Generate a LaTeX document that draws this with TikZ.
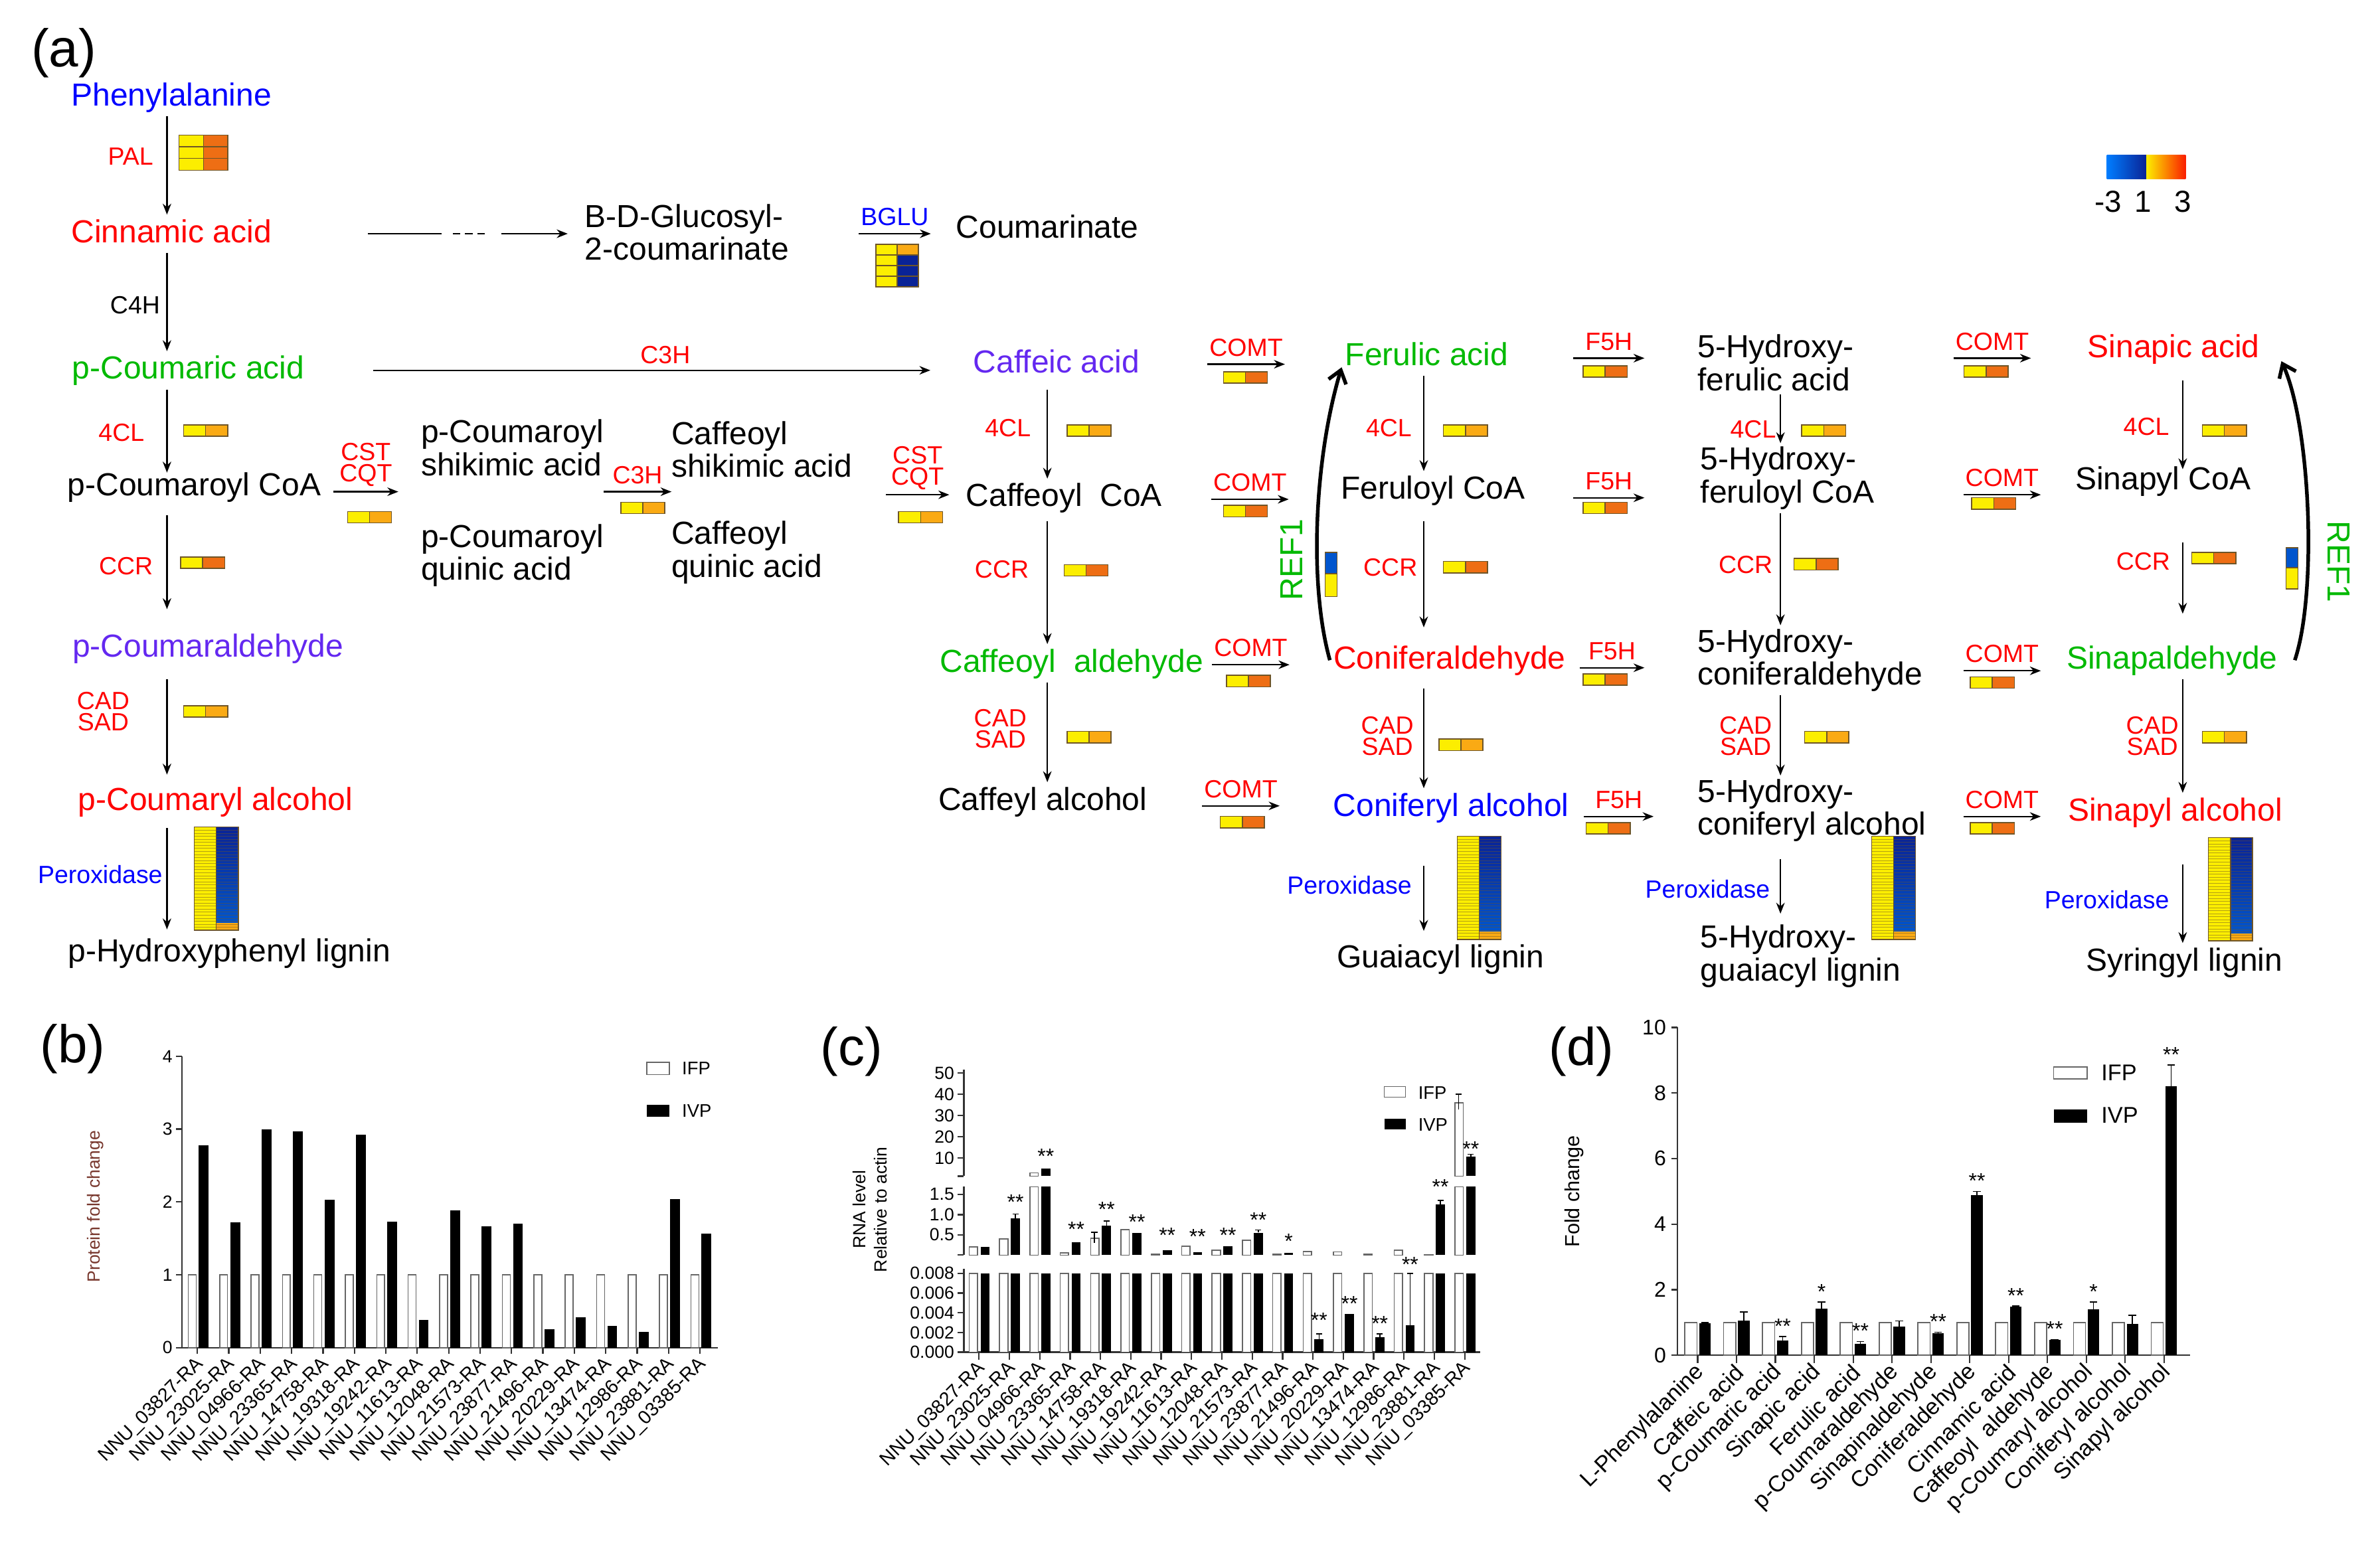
\documentclass[tikz,border=0pt]{standalone}
\usepackage{fontspec}
\setmainfont{Liberation Sans}
\usetikzlibrary{arrows.meta,calc}

\definecolor{cpdblue}{RGB}{0,0,255}
\definecolor{cpdred}{RGB}{255,0,0}
\definecolor{cpdgreen}{RGB}{0,185,0}
\definecolor{cpdviolet}{RGB}{100,40,240}
\definecolor{hmyel}{RGB}{252,238,0}
\definecolor{hmorg}{RGB}{238,110,20}
\definecolor{hmamb}{RGB}{250,170,20}
\definecolor{hmnavy}{RGB}{10,35,150}
\definecolor{hmblue}{RGB}{0,85,205}
\definecolor{hmedge}{RGB}{110,85,40}
\definecolor{cbblue}{RGB}{0,125,255}
\definecolor{cbred}{RGB}{250,30,0}
\definecolor{ylbrown}{RGB}{120,55,45}

\newcommand{\cpdsize}{\fontsize{10.5}{9.5}\selectfont}
\newcommand{\hydsize}{\fontsize{10.5}{10.8}\selectfont}
\newcommand{\enzsize}{\fontsize{8.2}{7}\selectfont}

% two-cell heat strip: x, y of the NW corner, colour of the right cell
\newcommand{\hmpair}[3]{%
  \filldraw[hmcell, fill=hmyel] (#1,#2) rectangle ++(14.5,7.5);
  \filldraw[hmcell, fill=#3] (#1+14.5,#2) rectangle ++(14.5,7.5);}
% tall peroxidase block: x, y of the NW corner
\newcommand{\hmtall}[2]{%
  \fill[hmyel] (#1,#2) rectangle ++(14.5,68);
  \shade[top color=hmnavy, bottom color=hmblue] (#1+14.5,#2) rectangle ++(14.5,63);
  \fill[hmamb] (#1+14.5,#2+63) rectangle ++(14.5,5);
  \foreach \k in {1,...,33} \draw[hmstripe] (#1,#2+2*\k) -- ++(29,0);
  \draw[hmcell] (#1,#2) rectangle ++(29,68) (#1+14.5,#2) -- ++(0,68);}
% error whisker: x, low y, high y
\newcommand{\errbar}[3]{\draw[errline] (#1,#2) -- (#1,#3) (#1-2,#3) -- (#1+2,#3);}

\tikzset{
  cpd/.style={font=\cpdsize, inner sep=1pt, text height=8pt, text depth=2.2pt},
  cpdtwo/.style={font=\cpdsize, inner sep=1pt, align=left, anchor=west},
  enz/.style={font=\enzsize, text=cpdred, inner sep=0.5pt},
  enztwo/.style={enz, align=center},
  rxnlab/.style={enz, anchor=south, text height=6pt, text depth=2pt},
  rxnlabtwo/.style={enz, anchor=south, align=center, inner ysep=1.5pt},
  rxn/.style={->, line width=0.5pt},
  refarc/.style={line width=1.2pt, -{Straight Barb[length=4pt, width=6pt]}},
  reflab/.style={font=\fontsize{10.5}{10.5}\selectfont, text=cpdgreen, inner sep=0pt},
  hmcell/.style={draw=hmedge, line width=0.3pt},
  hmstripe/.style={draw=hmedge, line width=0.12pt, opacity=0.5},
  panel/.style={font=\fontsize{17.5}{17.5}\selectfont, inner sep=0pt},
  axline/.style={line width=0.5pt, draw=black!80},
  ifpbar/.style={fill=white, draw=black!60, line width=0.35pt},
  ivpbar/.style={fill=black},
  errline/.style={line width=0.35pt},
  ticklab/.style={font=\fontsize{5.8}{6}\selectfont, inner sep=1pt, anchor=east},
  dticklab/.style={font=\fontsize{7}{7}\selectfont, inner sep=1pt, anchor=east},
  xlab/.style={font=\fontsize{6.3}{6.3}\selectfont, inner sep=0.5pt, rotate=45, anchor=east},
  dxlab/.style={font=\fontsize{7.5}{7.5}\selectfont, inner sep=0.5pt, rotate=45, anchor=east},
  leglab/.style={font=\fontsize{6}{6}\selectfont, inner sep=0.5pt, anchor=west},
  dleglab/.style={font=\fontsize{7.5}{7.5}\selectfont, inner sep=0.5pt, anchor=west},
  ylab/.style={font=\fontsize{5.8}{6}\selectfont, inner sep=0pt, rotate=90},
  sig/.style={font=\fontsize{7}{7}\selectfont, inner sep=0pt},
}

\begin{document}
\begin{tikzpicture}[x=0.5pt, y=-0.5pt, >={Stealth[length=3.6pt, width=2.8pt]}]
\useasboundingbox (0,0) rectangle (1568,1019);

%% (a) pathway
\node[panel] (pa) at (42,35) {(a)};

% compounds
\node[cpd, text=cpdblue] (phe) at (113,64) {Phenylalanine};
\node[cpd, text=cpdred] (cin) at (113,154) {Cinnamic acid};
\node[cpd, text=cpdgreen] (pca) at (124,244) {p-Coumaric acid};
\node[cpd] (pcoa) at (128,321) {p-Coumaroyl CoA};
\node[cpd, text=cpdviolet] (pcald) at (137,427) {p-Coumaraldehyde};
\node[cpd, text=cpdred] (pcalc) at (142,528) {p-Coumaryl alcohol};
\node[cpd] (hlig) at (151,628) {p-Hydroxyphenyl lignin};

\node[cpdtwo] (glc) at (383,153) {B-D-Glucosyl-\\2-coumarinate};
\node[cpd] (coum) at (690,151) {Coumarinate};
\node[cpdtwo] (pcs) at (275,295) {p-Coumaroyl\\shikimic acid};
\node[cpdtwo] (pcq) at (275,366) {p-Coumaroyl\\quinic acid};
\node[cpdtwo] (cfs) at (440,296) {Caffeoyl\\shikimic acid};
\node[cpdtwo] (cfq) at (440,364) {Caffeoyl\\quinic acid};

\node[cpd, text=cpdviolet] (caf) at (696,240) {Caffeic acid};
\node[cpd] (cfcoa) at (701,328) {Caffeoyl\ \ CoA};
\node[cpd, text=cpdgreen] (cfald) at (706,437) {Caffeoyl\ \ aldehyde};
\node[cpd] (cfalc) at (687,528) {Caffeyl alcohol};

\node[cpd, text=cpdgreen] (fer) at (940,235) {Ferulic acid};
\node[cpd] (fcoa) at (944,323) {Feruloyl CoA};
\node[cpd, text=cpdred] (conald) at (955,435) {Coniferaldehyde};
\node[cpd, text=cpdblue] (conalc) at (956,532) {Coniferyl alcohol};
\node[cpd] (glig) at (949,632) {Guaiacyl lignin};

\node[cpdtwo, font=\hydsize] (hfa) at (1116,239) {5-Hydroxy-\\ferulic acid};
\node[cpdtwo, font=\hydsize] (hfcoa) at (1118,315) {5-Hydroxy-\\feruloyl CoA};
\node[cpdtwo, font=\hydsize] (hcald) at (1116,435) {5-Hydroxy-\\coniferaldehyde};
\node[cpdtwo, font=\hydsize] (hcalc) at (1116,534) {5-Hydroxy-\\coniferyl alcohol};
\node[cpdtwo] (hglig) at (1118,630) {5-Hydroxy-\\guaiacyl lignin};

\node[cpd, text=cpdred] (sina) at (1432,230) {Sinapic acid};
\node[cpd] (scoa) at (1425,317) {Sinapyl CoA};
\node[cpd, text=cpdgreen] (sald) at (1431,435) {Sinapaldehyde};
\node[cpd, text=cpdred] (salc) at (1433,535) {Sinapyl alcohol};
\node[cpd] (slig) at (1439,634) {Syringyl lignin};

% vertical steps
\coordinate (colA) at (110,0);
\coordinate (colB) at (690,0);
\coordinate (colC) at (938,0);
\coordinate (colD) at (1173,0);
\coordinate (colE) at (1438,0);

\draw[rxn] (phe.south -| colA) -- (cin.north -| colA);
\draw[rxn] (cin.south -| colA) -- (pca.north -| colA);
\draw[rxn, shorten >=-1.5pt] (pca.south -| colA) -- (pcoa.north -| colA);
\draw[rxn, shorten <=3pt, shorten >=6.5pt] (pcoa.south -| colA) -- (pcald.north -| colA);
\draw[rxn, shorten <=4pt, shorten >=2.5pt] (pcald.south -| colA) -- (pcalc.north -| colA);
\draw[rxn, shorten <=2.5pt, shorten >=1.5pt] (pcalc.south -| colA) -- (hlig.north -| colA);

\draw[rxn, shorten <=2pt] (caf.south -| colB) -- (cfcoa.north -| colB);
\draw[rxn, shorten <=1.5pt] (cfcoa.south -| colB) -- (cfald.north -| colB);
\draw[rxn] (cfald.south -| colB) -- (cfalc.north -| colB);

\draw[rxn] (fer.south -| colC) -- (fcoa.north -| colC);
\draw[rxn, shorten <=4pt, shorten >=4.5pt] (fcoa.south -| colC) -- (conald.north -| colC);
\draw[rxn, shorten <=3pt] (conald.south -| colC) -- (conalc.north -| colC);
\draw[rxn, shorten <=13pt, shorten >=3pt] (conalc.south -| colC) -- (glig.north -| colC);

\draw[rxn] (hfa.south -| colD) -- (hfcoa.north -| colD);
\draw[rxn] (hfcoa.south -| colD) -- (hcald.north -| colD);
\draw[rxn] (hcald.south -| colD) -- (hcalc.north -| colD);
\draw[rxn, shorten <=4.5pt, shorten >=2.5pt] (hcalc.south -| colD) -- (hglig.north -| colD);

\draw[rxn, shorten <=4pt, shorten >=-2.4pt] (sina.south -| colE) -- (scoa.north -| colE);
\draw[rxn, shorten <=14pt, shorten >=9pt] (scoa.south -| colE) -- (sald.north -| colE);
\draw[rxn] (sald.south -| colE) -- (salc.north -| colE);
\draw[rxn, shorten <=11pt] (salc.south -| colE) -- (slig.north -| colE);

% enzymes on the vertical steps
\node[enz] (palA) at (86,103) {PAL};
\node[enz, text=black] (c4h) at (89,201) {C4H};
\node[enz] (clA) at (80,285) {4CL};
\node[enz] (ccrA) at (83,373) {CCR};
\node[enztwo] (cadA) at (68,469) {CAD\\SAD};
\node[enz, text=cpdblue] (poxA) at (66,576) {Peroxidase};
\node[enz] (clB) at (664,282) {4CL};
\node[enz] (ccrB) at (660,375) {CCR};
\node[enztwo] (cadB) at (659,480) {CAD\\SAD};
\node[enz] (clC) at (915,282) {4CL};
\node[enz] (ccrC) at (916,374) {CCR};
\node[enztwo] (cadC) at (914,485) {CAD\\SAD};
\node[enz, text=cpdblue] (poxC) at (889,583) {Peroxidase};
\node[enz] (clD) at (1155,283) {4CL};
\node[enz] (ccrD) at (1150,372) {CCR};
\node[enztwo] (cadD) at (1150,485) {CAD\\SAD};
\node[enz, text=cpdblue] (poxD) at (1125,586) {Peroxidase};
\node[enz] (clE) at (1414,281) {4CL};
\node[enz] (ccrE) at (1412,370) {CCR};
\node[enztwo] (cadE) at (1418,485) {CAD\\SAD};
\node[enz, text=cpdblue] (poxE) at (1388,593) {Peroxidase};

% cinnamic acid branch and the long C3H step
\draw[shorten <=30.5pt, shorten >=46pt] (cin.east) -- (glc.west |- cin.east);
\draw[dash pattern=on 2.5pt off 1.5pt, shorten <=58.5pt, shorten >=31pt] (cin.east) -- (glc.west |- cin.east);
\draw[rxn, shorten <=74.5pt, shorten >=4.5pt] (cin.east) -- (glc.west |- cin.east);
\draw[rxn, shorten <=21.5pt, shorten >=13pt] (pca.east) -- (caf.west |- pca.east)
  node[enz, pos=0.54, above=1.5pt] (c3hl) {C3H};

% horizontal steps, arrow under each label
\node[rxnlab, text=cpdblue, minimum width=22.5pt] (bglu) at (589.5,154) {BGLU};
\node[rxnlabtwo, minimum width=21pt] (cst1) at (241,324) {CST\\CQT};
\node[rxnlab, minimum width=22pt] (c3hs) at (420,324) {C3H};
\node[rxnlabtwo, minimum width=20.5pt] (cst2) at (604.5,326) {CST\\CQT};
\node[rxnlab, minimum width=21pt] (comt1) at (821,240) {COMT};
\node[rxnlab, minimum width=21.5pt] (comt2) at (823.5,329) {COMT};
\node[rxnlab, minimum width=21pt] (comt3) at (824,438) {COMT};
\node[rxnlab, minimum width=20.5pt] (comt4) at (817.5,531) {COMT};
\node[rxnlab, minimum width=23pt] (f5h1) at (1060,236) {F5H};
\node[rxnlab, minimum width=23pt] (f5h2) at (1060,328) {F5H};
\node[rxnlab, minimum width=21pt] (f5h3) at (1062,440) {F5H};
\node[rxnlab, minimum width=22.5pt] (f5h4) at (1066.5,538) {F5H};
\node[rxnlab, minimum width=22.5pt] (comt5) at (1312.5,236) {COMT};
\node[rxnlab, minimum width=21pt] (comt6) at (1319,326) {COMT};
\node[rxnlab, minimum width=21pt] (comt7) at (1319,442) {COMT};
\node[rxnlab, minimum width=21pt] (comt8) at (1319,538) {COMT};
\foreach \e in {bglu,cst1,c3hs,cst2,comt1,comt2,comt3,comt4,f5h1,f5h2,f5h3,f5h4,comt5,comt6,comt7,comt8}
  \draw[rxn] (\e.south west) -- (\e.south east);

% REF1 arcs
\draw[refarc] (conald.west) .. controls +(-14,-50) and +(-18,60) .. ($(fer.west)+(0,7)$);
\node[reflab, rotate=90] (refl) at (851,369) {REF1};
\draw[refarc] ($(sald.east)+(9,0)$) .. controls +(15,-45) and +(19,42) .. ($(sina.east)+(12,8)$);
\node[reflab, rotate=-90] (refr) at (1541,370) {REF1};

% heat maps
\foreach \r in {0,1,2} {
  \filldraw[hmcell, fill=hmyel] (118,89+7.7*\r) rectangle ++(16,7.7);
  \filldraw[hmcell, fill=hmorg] (134,89+7.7*\r) rectangle ++(16,7.7);}
\foreach \r/\c in {0/hmamb,1/hmnavy,2/hmnavy,3/hmnavy} {
  \filldraw[hmcell, fill=hmyel] (577,161+7*\r) rectangle ++(14,7);
  \filldraw[hmcell, fill=\c] (591,161+7*\r) rectangle ++(14,7);}
\hmpair{121}{280}{hmamb}
\hmpair{119}{367}{hmorg}
\hmpair{121}{465}{hmamb}
\hmpair{229}{337}{hmamb}
\hmpair{409}{331}{hmamb}
\hmpair{592}{337}{hmamb}
\hmpair{703}{280}{hmamb}
\hmpair{701}{372}{hmorg}
\hmpair{703}{482}{hmamb}
\hmpair{806}{245}{hmorg}
\hmpair{806}{333}{hmorg}
\hmpair{808}{445}{hmorg}
\hmpair{804}{538}{hmorg}
\hmpair{951}{280}{hmamb}
\hmpair{951}{370}{hmorg}
\hmpair{948}{487}{hmamb}
\hmpair{1043}{241}{hmorg}
\hmpair{1043}{331}{hmorg}
\hmpair{1043}{444}{hmorg}
\hmpair{1045}{542}{hmorg}
\hmpair{1187}{280}{hmamb}
\hmpair{1182}{368}{hmorg}
\hmpair{1189}{482}{hmamb}
\hmpair{1294}{241}{hmorg}
\hmpair{1299}{328}{hmorg}
\hmpair{1298}{446}{hmorg}
\hmpair{1298}{542}{hmorg}
\hmpair{1451}{280}{hmamb}
\hmpair{1444}{364}{hmorg}
\hmpair{1451}{482}{hmamb}
\hmtall{128}{545}
\hmtall{960}{551}
\hmtall{1233}{551}
\hmtall{1455}{552}
\filldraw[hmcell, fill=hmblue] (873,364) rectangle (881,378);
\filldraw[hmcell, fill=hmyel] (873,378) rectangle (881,393);
\filldraw[hmcell, fill=hmblue] (1506,361) rectangle (1514,374);
\filldraw[hmcell, fill=hmyel] (1506,374) rectangle (1514,388);

% colour key
\shade[left color=cbblue, right color=hmnavy] (1388,102) rectangle (1414,118);
\shade[left color=hmyel, right color=cbred] (1414,102) rectangle (1440,118);
\node[font=\fontsize{10}{10}\selectfont, inner sep=0pt] (cbm) at (1389,133) {-3};
\node[font=\fontsize{10}{10}\selectfont, inner sep=0pt] (cbo) at (1412,133) {1};
\node[font=\fontsize{10}{10}\selectfont, inner sep=0pt] (cbt) at (1438,133) {3};

%% (b) protein fold change
\node[panel] (pb) at (48,691) {(b)};
\draw[axline] (120,696) -- (120,888) -- (473,888);
\foreach \v in {0,...,4} {
  \draw[axline] (116,888-48*\v) -- (120,888-48*\v);
  \node[ticklab] (by\v) at (116,888-48*\v) {\v};}
\foreach \v/\id [count=\i] in {2.78/03827,1.72/23025,3.0/04966,2.97/23365,2.03/14758,2.92/19318,1.73/19242,0.38/11613,1.88/12048,1.67/21573,1.70/23877,0.25/21496,0.42/20229,0.30/13474,0.22/12986,2.04/23881,1.57/03385} {
  \pgfmathsetmacro{\tx}{130+20.7*(\i-1)}
  \draw[ifpbar] (\tx-6,888) rectangle (\tx-0.8,840);
  \fill[ivpbar] (\tx+1,888) rectangle (\tx+7.5,888-48*\v);
  \draw[axline] (\tx,888) -- (\tx,892);
  \node[xlab] (bx\i) at (\tx+3,896) {NNU\_\id-RA};}
\draw[ifpbar] (426,700) rectangle (441,708);
\node[leglab] (bifp) at (448,704) {IFP};
\fill[ivpbar] (426,728) rectangle (441,736);
\node[leglab] (bivp) at (448,732) {IVP};
\node[ylab, text=ylbrown] (byl) at (63,795) {Protein fold change};

%% (c) RNA level
\node[panel] (pc) at (561,693) {(c)};
\draw[axline] (635,705) -- (635,775);
\foreach \v in {10,20,...,50} {
  \draw[axline] (631,777-1.4*\v) -- (635,777-1.4*\v);
  \node[ticklab] (cyt\v) at (631,777-1.4*\v) {\v};}
\draw[axline] (631,775) -- (635,775);
\draw[axline] (635,782) -- (635,827);
\foreach \v/\l in {1.5/1.5,1.0/1.0,0.5/0.5} {
  \draw[axline] (631,827-26.67*\v) -- (635,827-26.67*\v);
  \node[ticklab] (cym\l) at (631,827-26.67*\v) {\l};}
\draw[axline] (631,827) -- (635,827);
\draw[axline] (635,836) -- (635,891) -- (975,891);
\foreach \v/\l in {0/0.000,0.002/0.002,0.004/0.004,0.006/0.006,0.008/0.008} {
  \draw[axline] (631,891-6500*\v) -- (635,891-6500*\v);
  \node[ticklab] (cyb\l) at (631,891-6500*\v) {\l};}
\foreach \a/\b/\sy/\st/\id [count=\i] in {
  0.2/0.2/0/{}/03827, 0.4/0.9/792/{**}/23025, 3.0/5.0/762/{**}/04966,
  0.05/0.32/810/{**}/23365, 0.42/0.72/797/{**}/14758, 0.63/0.55/805/{**}/19318,
  0.02/0.12/814/{**}/19242, 0.22/0.07/815/{**}/11613, 0.12/0.22/814/{**}/12048,
  0.37/0.55/804/{**}/21573, 0.02/0.05/818/{*}/23877, 0.09/0.0013/870/{**}/21496,
  0.08/0.0039/859/{**}/20229, 0.02/0.0015/872/{**}/13474, 0.12/0.0027/833/{**}/12986,
  0.01/1.25/782/{**}/23881, 36/10.5/757/{**}/03385} {
  \pgfmathsetmacro{\tx}{645+20*(\i-1)}
  \pgfmathsetmacro{\yba}{891-6500*min(\a,0.008)}
  \pgfmathsetmacro{\ybb}{891-6500*min(\b,0.008)}
  \pgfmathsetmacro{\yma}{827-26.67*min(\a,1.69)}
  \draw[ifpbar] (\tx-6.5,891) rectangle (\tx-1,\yba);
  \draw[ifpbar] (\tx-6.5,827) rectangle (\tx-1,\yma);
  \fill[ivpbar] (\tx+1,891) rectangle (\tx+7,\ybb);
  \ifdim \b pt>0.008pt
    \pgfmathsetmacro{\ymb}{827-26.67*min(\b,1.69)}
    \fill[ivpbar] (\tx+1,827) rectangle (\tx+7,\ymb);
  \fi
  \ifdim \a pt>1.5pt
    \draw[ifpbar] (\tx-6.5,775) rectangle (\tx-1,777-1.4*\a);
  \fi
  \ifdim \b pt>1.5pt
    \fill[ivpbar] (\tx+1,775) rectangle (\tx+7,777-1.4*\b);
  \fi
  \node[sig] (cs\i) at (\tx+4,\sy) {\st};
  \draw[axline] (\tx,891) -- (\tx,896);
  \node[xlab] (cx\i) at (\tx+3,899) {NNU\_\id-RA};}
\errbar{669}{803}{800}
\errbar{721}{819}{812}
\errbar{729}{808}{804.5}
\errbar{829}{812}{810.5}
\errbar{869}{882.5}{879}
\errbar{909}{881}{879}
\errbar{929}{873.5}{839}
\errbar{949}{793.5}{791}
\errbar{961}{731}{721}
\errbar{969}{762}{760.5}
\draw[ifpbar] (912,716) rectangle (926,723);
\node[leglab] (cifp) at (933,720) {IFP};
\fill[ivpbar] (912,737) rectangle (926,744);
\node[leglab] (civp) at (933,741) {IVP};
\node[ylab] (cyl1) at (566,797) {RNA level};
\node[ylab] (cyl2) at (580,797) {Relative to actin};

%% (d) metabolite fold change
\node[panel] (pd) at (1042,693) {(d)};
\draw[axline] (1105,677) -- (1105,893) -- (1443,893);
\foreach \v in {0,2,...,10} {
  \draw[axline] (1101,893-21.6*\v) -- (1105,893-21.6*\v);
  \node[dticklab] (dy\v) at (1100,893-21.6*\v) {\v};}
\foreach \v/\e/\st/\id [count=\i] in {
  0.97/1.0/{}/L-Phenylalanine, 1.05/1.32/{}/Caffeic acid, 0.45/0.57/{**}/p-Coumaric acid,
  1.42/1.62/{*}/Sinapic acid, 0.35/0.42/{**}/Ferulic acid, 0.87/1.05/{}/p-Coumaraldehyde,
  0.68/0.70/{**}/Sinapinaldehyde, 4.88/5.0/{**}/Coniferaldehyde, 1.48/1.5/{**}/Cinnamic acid,
  0.46/0.48/{**}/Caffeoyl\ \ aldehyde, 1.4/1.62/{*}/p-Coumaryl alcohol,
  0.95/1.22/{}/Coniferyl alcohol, 8.2/8.85/{**}/Sinapyl alcohol} {
  \pgfmathsetmacro{\tx}{1118.5+25.6*(\i-1)}
  \draw[ifpbar] (\tx-8.5,893) rectangle (\tx-0.5,871.4);
  \fill[ivpbar] (\tx+1,893) rectangle (\tx+8.5,893-21.6*\v);
  \draw[errline] (\tx+4.75,893-21.6*\v) -- (\tx+4.75,893-21.6*\e) ++(-2.5,0) -- ++(5,0);
  \node[sig] (ds\i) at (\tx+4.75,886-21.6*\e) {\st};
  \draw[axline] (\tx,893) -- (\tx,898);
  \node[dxlab] (dx\i) at (\tx+3,901) {\id};}
\draw[ifpbar] (1353,703) rectangle (1375,711);
\node[dleglab] (difp) at (1383,707) {IFP};
\fill[ivpbar] (1353,731) rectangle (1375,740);
\node[dleglab] (divp) at (1383,735) {IVP};
\node[ylab, font=\fontsize{6.7}{7}\selectfont] (dyl) at (1037,785) {Fold change};
\end{tikzpicture}
\end{document}
